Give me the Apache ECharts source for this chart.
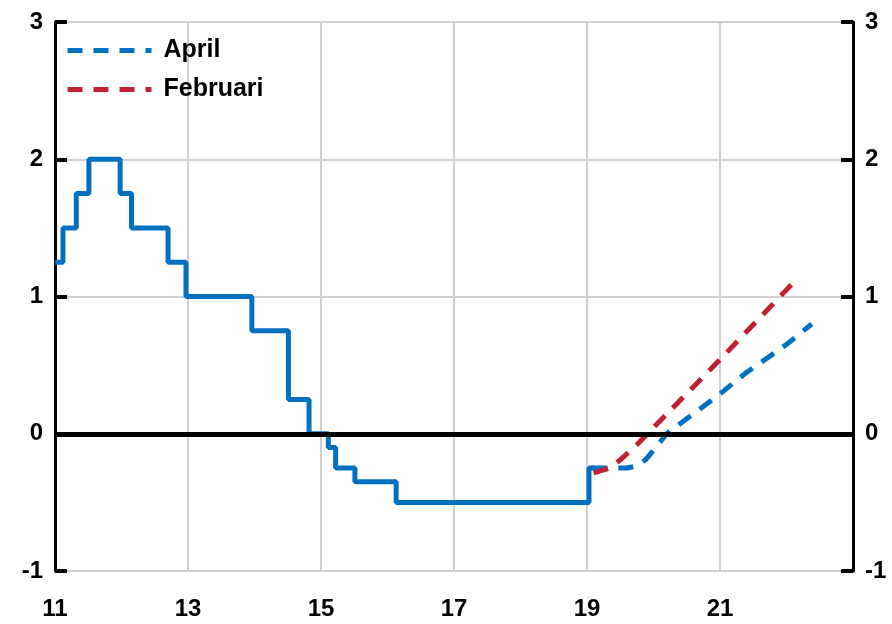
<!DOCTYPE html>
<html>
<head>
<meta charset="utf-8">
<script src="https://cdn.jsdelivr.net/npm/echarts@6/dist/echarts.min.js"></script>
<style>
html,body{margin:0;padding:0;background:#fff;}
#chart{width:892px;height:624px;}
</style>
</head>
<body>
<div id="chart"></div>
<script>
// Policy rate (step line), decimal years
const stepX = [11.0, 11.12, 11.32, 11.51, 11.98, 12.15, 12.70, 12.97, 13.96, 14.51, 14.82, 15.11, 15.22, 15.51, 16.13, 19.03, 19.1];
const stepY = [1.25, 1.5, 1.75, 2.0, 1.75, 1.5, 1.25, 1.0, 0.75, 0.25, 0, -0.1, -0.25, -0.35, -0.5, -0.25, -0.25];

// April forecast
const aprilX = [19.08, 19.6, 19.75, 19.88, 20.0, 20.1, 20.2, 20.5, 21.0, 21.38, 22.0, 22.38];
const aprilY = [-0.25, -0.25, -0.235, -0.19, -0.12, -0.06, 0.0, 0.11, 0.29, 0.44, 0.65, 0.8];

// Februari forecast
const febX = [19.1, 19.35, 19.5, 19.75, 19.95, 21.0, 22.1];
const febY = [-0.285, -0.25, -0.19, -0.08, 0.02, 0.54, 1.1];

const seriesNames = ['April', 'Februari'];
const xMin = 11, xMax = 23, xStep = 2;
const yMin = -1, yMax = 3, yStep = 1;

const zip = (a, b) => a.map((v, i) => [v, b[i]]);

const blue = '#0070C0';
const red = '#C0202F';
const grey = '#D0D0D0';
const fontFam = "'Liberation Sans', Arial, sans-serif";

const labelStyle = { color: '#000', fontSize: 24, fontWeight: 'bold', fontFamily: fontFam };

const yAxisBase = {
  type: 'value', min: yMin, max: yMax, interval: yStep,
  axisLine: { show: true, lineStyle: { color: '#000', width: 3 } },
  axisTick: { show: true, inside: true, length: 12, lineStyle: { color: '#000', width: 4 } },
  axisLabel: Object.assign({ margin: 12 }, labelStyle),
  splitLine: { show: true, lineStyle: { color: grey, width: 2 } }
};

const dash = [15, 11];
const lw = 5;

const chart = echarts.init(document.getElementById('chart'), null, { renderer: 'canvas' });
chart.setOption({
  animation: false,
  backgroundColor: '#fff',
  grid: { left: 55, right: 39, top: 22, bottom: 53, containLabel: false },
  legend: {
    data: seriesNames,
    orient: 'vertical',
    left: 60, top: 33,
    itemWidth: 84, itemHeight: 14, itemGap: 14,
    itemStyle: { opacity: 0, borderWidth: 0 },
    lineStyle: { width: lw, type: dash },
    textStyle: { color: '#000', fontSize: 25, fontWeight: 'bold', fontFamily: fontFam, padding: [0, 0, 0, 7] }
  },
  xAxis: {
    type: 'value', min: xMin, max: xMax, interval: xStep,
    axisLine: { show: false },
    axisTick: { show: false },
    axisLabel: Object.assign({ margin: 26, showMaxLabel: false }, labelStyle),
    splitLine: { show: true, lineStyle: { color: grey, width: 2 } }
  },
  yAxis: [
    Object.assign({}, yAxisBase, { position: 'left' }),
    Object.assign({}, yAxisBase, { position: 'right', splitLine: { show: false } })
  ],
  series: [
    {
      name: 'zero', type: 'line', data: [], z: 1, silent: true,
      markLine: {
        silent: true, symbol: 'none', label: { show: false },
        lineStyle: { color: '#000', width: 5, type: 'solid' },
        data: [{ yAxis: 0 }]
      }
    },
    {
      name: 'Reporänta', type: 'line', step: 'end', z: 3,
      showSymbol: false, symbol: 'none',
      lineStyle: { color: blue, width: lw },
      data: zip(stepX, stepY)
    },
    {
      name: seriesNames[0], type: 'line', z: 4,
      showSymbol: false, symbol: 'none',
      itemStyle: { color: blue },
      lineStyle: { color: blue, width: lw, type: dash },
      data: zip(aprilX, aprilY)
    },
    {
      name: seriesNames[1], type: 'line', z: 4,
      showSymbol: false, symbol: 'none',
      itemStyle: { color: red },
      lineStyle: { color: red, width: lw, type: dash },
      data: zip(febX, febY)
    }
  ]
});
</script>
</body>
</html>
